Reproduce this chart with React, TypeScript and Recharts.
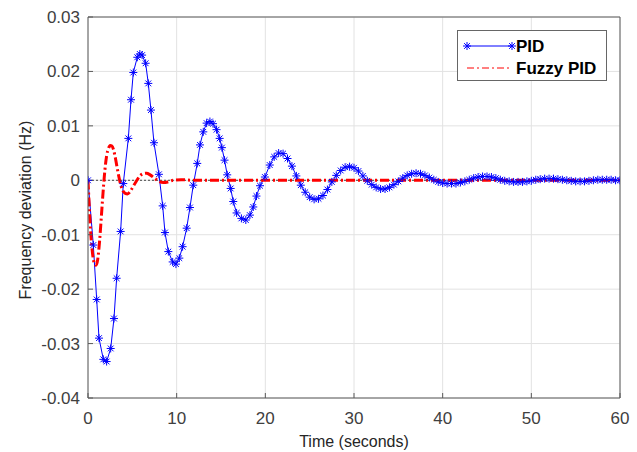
import React from "react";
import {
  LineChart,
  Line,
  XAxis,
  YAxis,
  CartesianGrid,
  ReferenceLine,
  Legend,
} from "recharts";

// ---- data ----
const xTicks = [0, 10, 20, 30, 40, 50, 60];
const yTicks = [-0.04, -0.03, -0.02, -0.01, 0, 0.01, 0.02, 0.03];

const pidTime = [
  0, 0.6, 0.98, 1.24, 1.73, 2.1, 2.56, 2.93, 3.23, 3.68, 3.98, 4.55, 4.85,
  5.11, 5.56, 5.85, 6.1, 6.5, 6.8, 7.1, 7.44, 8.0, 8.42, 8.68, 9.06, 9.55,
  9.92, 10.3, 10.67, 11.13, 11.5, 11.87, 12.32, 12.63, 13.0, 13.38, 13.75,
  14.1, 14.5, 14.85, 15.1, 15.4, 15.7, 16.09, 16.38, 16.76, 17.3, 17.8, 18.26,
  18.64, 19.0, 19.4, 19.95, 20.5, 21.0, 21.5, 22.0, 22.5, 23.0, 23.5, 24.0,
  24.5, 25.0, 25.5, 26.0, 26.5, 27.0, 27.5, 28.0, 28.5, 29.0, 29.5, 30.0,
  30.5, 31.0, 31.5, 32.0, 32.5, 33.0, 33.5, 34.0, 34.5, 35.0, 35.5, 36.0,
  36.5, 37.0, 37.5, 38.0, 38.5, 39.0, 39.5, 40.0, 40.5, 41.0, 41.5, 42.0,
  42.5, 43.0, 43.5, 44.0, 44.5, 45.0, 45.5, 46.0, 46.5, 47.0, 47.5, 48.0,
  48.5, 49.0, 49.5, 50.0, 50.5, 51.0, 51.5, 52.0, 52.5, 53.0, 53.5, 54.0,
  54.5, 55.0, 55.5, 56.0, 56.5, 57.0, 57.5, 58.0, 58.5, 59.0, 59.5, 60.0,
];
const pidValue = [
  0, -0.0119, -0.0219, -0.029, -0.0329, -0.0333, -0.0309, -0.0254, -0.018,
  -0.0094, -0.0006, 0.0077, 0.0148, 0.0198, 0.0226, 0.0232, 0.023, 0.0215,
  0.0178, 0.0129, 0.0069, 0.0011, -0.0047, -0.0096, -0.0131, -0.015, -0.0154,
  -0.0143, -0.0122, -0.0088, -0.005, -0.0009, 0.0031, 0.0065, 0.0089, 0.0105,
  0.0108, 0.0104, 0.0093, 0.0077, 0.006, 0.0037, 0.001, -0.0015, -0.0039,
  -0.006, -0.007, -0.0073, -0.0064, -0.0049, -0.0029, -0.001, 0.0006, 0.0028,
  0.0043, 0.005, 0.0049, 0.004, 0.0026, 0.0008, -0.0009, -0.0022, -0.0031,
  -0.0035, -0.0034, -0.0028, -0.0017, -0.0003, 0.0009, 0.0018, 0.0024, 0.0025,
  0.0023, 0.0017, 0.0008, -0.0001, -0.0008, -0.0013, -0.0016, -0.0016,
  -0.0013, -0.0008, -0.0002, 0.0004, 0.0009, 0.0012, 0.0013, 0.0012, 0.0009,
  0.0005, 0.0001, -0.0003, -0.0005, -0.0006, -0.0006, -0.0006, -0.0004,
  -0.0002, 0.0001, 0.0004, 0.0006, 0.0007, 0.0007, 0.0006, 0.0004, 0.0001,
  -0.0001, -0.0002, -0.0003, -0.0003, -0.0003, -0.0002, -0.0001, 0.0001,
  0.0002, 0.0003, 0.0003, 0.0003, 0.0002, 0.0001, 0, -0.0001, -0.0002,
  -0.0002, -0.0002, -0.0001, 0, 0.0001, 0.0001, 0.0001, 0.0001, 0, 0,
];

const fuzzyTime = [
  0, 0.15, 0.3, 0.5, 0.7, 0.9, 1.1, 1.3, 1.5, 1.7, 1.9, 2.1, 2.3, 2.5, 2.7,
  2.9, 3.1, 3.3, 3.5, 3.7, 3.9, 4.2, 4.45, 4.7, 5.0, 5.4, 5.8, 6.2, 6.6, 7.0,
  7.5, 8.0, 8.5, 9.0, 9.6, 10.5, 12, 15, 20, 25, 30, 35, 40, 45, 50, 55, 60,
];
const fuzzyValue = [
  0, -0.005, -0.0095, -0.0133, -0.0152, -0.0156, -0.0145, -0.0113, -0.0068,
  -0.0022, 0.0018, 0.0045, 0.0058, 0.0064, 0.0063, 0.0055, 0.004, 0.0022,
  0.0005, -0.0009, -0.0018, -0.0024, -0.0025, -0.0022, -0.0014, -0.0003,
  0.0007, 0.0012, 0.0013, 0.001, 0.0004, -0.0002, -0.0004, -0.0003, 0, 0.0001,
  0, 0, 0, 0, 0, 0, 0, 0, 0, 0, 0,
];

const seriesNames = ["PID", "Fuzzy PID"];

const pidData = pidTime.map((t, i) => ({ t, v: pidValue[i] }));
const fuzzyData = fuzzyTime.map((t, i) => ({ t, v: fuzzyValue[i] }));

const FONT = '"Liberation Sans", Arial, Helvetica, sans-serif';
const BLUE = "#0000ff";
const RED = "#ff0000";
const AXIS = "#5a5a5a";
const TEXT = "#404040";

function StarDot(props: any) {
  const { cx, cy } = props;
  if (cx == null || cy == null) return null;
  const r = 4;
  const d = r * 0.72;
  return (
    <g stroke={BLUE} strokeWidth={1}>
      <line x1={cx - r} y1={cy} x2={cx + r} y2={cy} />
      <line x1={cx} y1={cy - r} x2={cx} y2={cy + r} />
      <line x1={cx - d} y1={cy - d} x2={cx + d} y2={cy + d} />
      <line x1={cx - d} y1={cy + d} x2={cx + d} y2={cy - d} />
    </g>
  );
}

function LegendBox() {
  const star = (x: number, y: number) => {
    const r = 4;
    const d = r * 0.72;
    return (
      <g stroke={BLUE} strokeWidth={1}>
        <line x1={x - r} y1={y} x2={x + r} y2={y} />
        <line x1={x} y1={y - r} x2={x} y2={y + r} />
        <line x1={x - d} y1={y - d} x2={x + d} y2={y + d} />
        <line x1={x - d} y1={y + d} x2={x + d} y2={y - d} />
      </g>
    );
  };
  return (
    <svg width={150} height={51} style={{ display: "block" }}>
      <rect x={0.5} y={0.5} width={149} height={50} fill="#fff" stroke="#666" strokeWidth={1} />
      <line x1={10} y1={16} x2={55} y2={16} stroke={BLUE} strokeWidth={1} />
      {star(10, 16)}
      {star(55, 16)}
      <text x={59} y={22} fontFamily={FONT} fontSize={17} fontWeight="bold" fill="#000">
        {seriesNames[0]}
      </text>
      <line x1={10} y1={38} x2={55} y2={38} stroke={RED} strokeWidth={1} strokeDasharray="7 3 2 3" />
      <text x={59} y={44} fontFamily={FONT} fontSize={17} fontWeight="bold" fill="#000">
        {seriesNames[1]}
      </text>
    </svg>
  );
}

export default function App() {
  return (
    <div style={{ position: "absolute", left: 0, top: 0, width: 637, height: 452, background: "#fff" }}>
      <LineChart width={637} height={452} margin={{ top: 17, right: 17, bottom: 24, left: 28 }}>
        <CartesianGrid stroke="#e2e2e2" strokeWidth={1} />
        <XAxis
          type="number"
          dataKey="t"
          domain={[0, 60]}
          ticks={xTicks}
          allowDataOverflow
          stroke={AXIS}
          tickSize={-5}
          tickMargin={19}
          tick={{ fill: TEXT, fontSize: 17, fontFamily: FONT }}
          height={30}
          label={{
            content: () => (
              <text x={354} y={447} textAnchor="middle" fontFamily={FONT} fontSize={16} fill="#262626">
                Time (seconds)
              </text>
            ),
          }}
        />
        <YAxis
          type="number"
          domain={[-0.04, 0.03]}
          ticks={yTicks}
          allowDataOverflow
          stroke={AXIS}
          width={60}
          tickSize={-5}
          tickMargin={13}
          tickFormatter={(v: number) => (Math.abs(v) < 1e-9 ? "0" : v.toFixed(2))}
          tick={{ fill: TEXT, fontSize: 17, fontFamily: FONT }}
          label={{
            content: () => (
              <text
                x={25}
                y={210}
                transform="rotate(-90 25 210)"
                textAnchor="middle"
                dominantBaseline="central"
                fontFamily={FONT}
                fontSize={16}
                fill="#262626"
              >
                Frequency deviation (Hz)
              </text>
            ),
          }}
        />
        <ReferenceLine y={0.03} stroke={AXIS} strokeWidth={1} />
        <ReferenceLine x={60} stroke={AXIS} strokeWidth={1} />
        <ReferenceLine y={0} stroke="#444" strokeWidth={1} strokeDasharray="2 2" />
        <Line
          data={pidData}
          dataKey="v"
          name={seriesNames[0]}
          type="linear"
          stroke={BLUE}
          strokeWidth={1}
          dot={<StarDot />}
          activeDot={false}
          isAnimationActive={false}
        />
        <Line
          data={fuzzyData}
          dataKey="v"
          name={seriesNames[1]}
          type="monotone"
          stroke={RED}
          strokeWidth={3}
          strokeDasharray="9 3 2 3"
          dot={false}
          activeDot={false}
          isAnimationActive={false}
        />
        <Legend
          layout="vertical"
          align="center"
          verticalAlign="middle"
          content={() => <LegendBox />}
          wrapperStyle={{ left: 457, top: 30, width: 150, height: 51 }}
        />
      </LineChart>
    </div>
  );
}
